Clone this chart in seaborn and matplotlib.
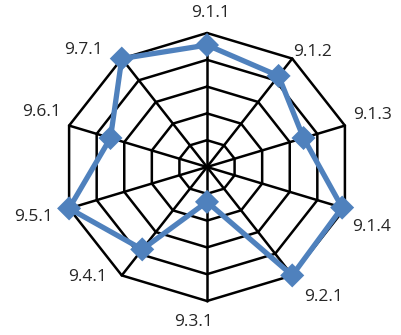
import numpy as np
import matplotlib
matplotlib.use("Agg")
import matplotlib.pyplot as plt
import seaborn as sns
import pandas as pd

categories = ["9.1.1", "9.1.2", "9.1.3", "9.1.4", "9.2.1",
              "9.3.1", "9.4.1", "9.5.1", "9.6.1", "9.7.1"]
scores = [4.55, 4.2, 3.5, 4.9, 5.0, 1.3, 3.8, 5.0, 3.5, 5.0]
ring_levels = [1, 2, 3, 4, 5]

# label placement: pixel offsets from each outer vertex
label_offsets = [(4, 20), (20, 7), (28, 11), (27, -19), (31, -22),
                 (-13, -21), (-34, -2), (-36, -9), (-28, 14), (-38, 9)]

sns.set_theme(style="white")
plt.rcParams["font.family"] = ["Open Sans", "DejaVu Sans"]

n = len(categories)
theta = np.arange(n) * 2 * np.pi / n  # clockwise from top
sx, sy = np.sin(theta), np.cos(theta)

fig = plt.figure(figsize=(4.01, 3.35), dpi=100)
ax = fig.add_axes([0, 0, 1, 1])
# ~29 px per unit horizontally, ~26.8 px per unit vertically
ax.set_xlim(-207 / 29.0, (401 - 207) / 29.0)
ax.set_ylim(-(335 - 167) / 26.8, 167 / 26.8)
ax.axis("off")

# web grid
for lv in ring_levels:
    xs = np.append(lv * sx, lv * sx[0])
    ys = np.append(lv * sy, lv * sy[0])
    ax.plot(xs, ys, color="black", lw=1.8, zorder=1, solid_joinstyle="miter")
rmax = max(ring_levels)
for i in range(n):
    ax.plot([0, rmax * sx[i]], [0, rmax * sy[i]], color="black", lw=1.8, zorder=1)

# data series
v = np.array(scores)
df = pd.DataFrame({"x": np.append(v * sx, v[0] * sx[0]),
                   "y": np.append(v * sy, v[0] * sy[0])})
sns.lineplot(data=df, x="x", y="y", sort=False, estimator=None, ax=ax,
             color="#4F81BD", lw=3.8, zorder=3, legend=False)
sns.scatterplot(x=v * sx, y=v * sy, ax=ax, marker="D", s=150,
                color="#4F81BD", edgecolor="none", zorder=4, legend=False)

# category labels
for i, lab in enumerate(categories):
    ax.annotate(lab, xy=(rmax * sx[i], rmax * sy[i]), xytext=label_offsets[i],
                textcoords="offset pixels", ha="center", va="center",
                fontsize=12.5, color="#262626")

ax.set_xlabel("")
ax.set_ylabel("")
fig.savefig("out.png", dpi=100)
